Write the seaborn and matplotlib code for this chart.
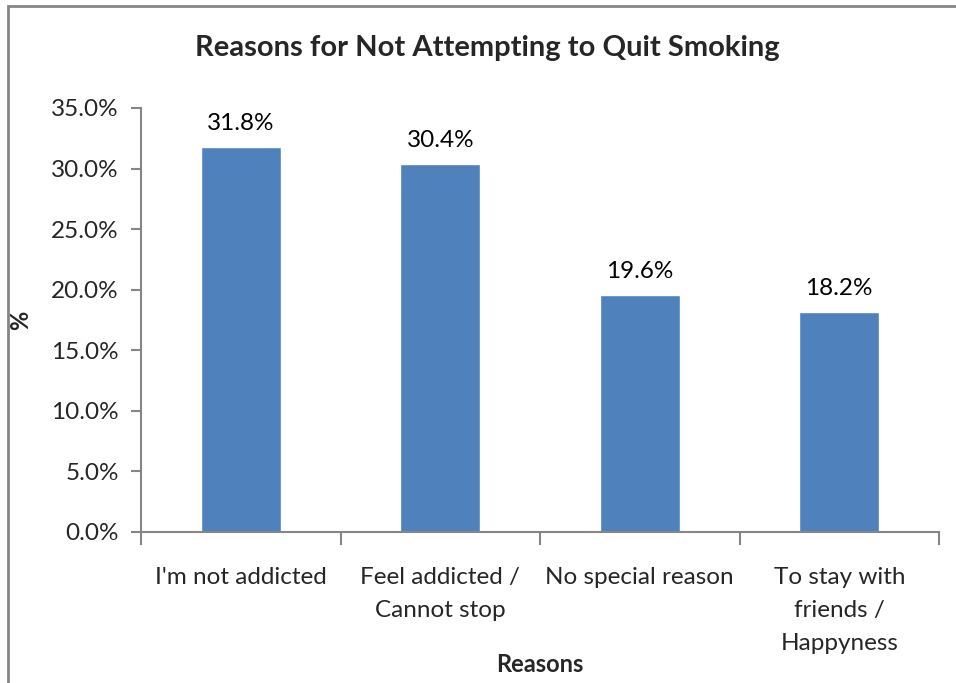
import matplotlib
matplotlib.use("Agg")
import matplotlib.pyplot as plt
import seaborn as sns
import pandas as pd
from matplotlib.patches import Rectangle
from matplotlib.ticker import FuncFormatter, FixedLocator

reasons = ["I'm not addicted", "Feel addicted /\nCannot stop", "No special reason",
           "To stay with\nfriends /\nHappyness"]
shares = [31.8, 30.4, 19.6, 18.2]

sns.set_style("white")
plt.rcParams['font.family'] = ['Lato', 'DejaVu Sans']

df = pd.DataFrame({"reason": reasons, "share": shares})

fig = plt.figure(figsize=(9.56, 6.83), dpi=100)
ax = fig.add_axes([141/956, 1-532/683, (939-141)/956, (532-108)/683])

sns.barplot(data=df, x="reason", y="share", color="#4F81BD", saturation=1,
            width=0.4, ax=ax)

for p, v in zip(ax.patches, shares):
    ax.annotate(f"{v:.1f}%", (p.get_x() + p.get_width()/2, p.get_height()),
                xytext=(0, 9), textcoords="offset points", ha="center",
                va="bottom", fontsize=17.5, color="black")

ax.set_xlim(-0.5, 3.5)
ax.set_ylim(0, 35)
ax.yaxis.set_major_locator(FixedLocator([0, 5, 10, 15, 20, 25, 30, 35]))
ax.yaxis.set_major_formatter(FuncFormatter(lambda v, _: f"{v:.1f}%"))

for s in ["top", "right"]:
    ax.spines[s].set_visible(False)
for s in ["left", "bottom"]:
    ax.spines[s].set_color("#868686")
    ax.spines[s].set_linewidth(1.5)

ax.tick_params(axis="y", length=7, width=1.5, color="#868686", direction="out",
               labelsize=17.5, pad=9, left=True)
ax.tick_params(axis="x", which="major", length=0, labelsize=17.5, pad=25)
ax.set_xticks([-0.5, 0.5, 1.5, 2.5, 3.5], minor=True)
ax.tick_params(axis="x", which="minor", length=9, width=1.5, color="#868686",
               direction="out", bottom=True)
for lbl in ax.get_xticklabels():
    lbl.set_linespacing(1.72)

ax.set_xlabel("Reasons", fontsize=17, fontweight="bold")
ax.set_ylabel("%", fontsize=17, fontweight="bold")
ax.xaxis.set_label_coords((540-141)/(939-141), (532-653)/(532-108))
ax.yaxis.set_label_coords((32-141)/(939-141), (532-320)/(532-108))

fig.text(487/956, 1-48/683, "Reasons for Not Attempting to Quit Smoking",
         ha="center", va="center", fontsize=21, fontweight="bold")

fig.patches.append(Rectangle((8/956, -0.05), 1.2, 1-6/683+0.05,
                             transform=fig.transFigure, fill=False,
                             edgecolor="#868686", linewidth=2))

fig.savefig("out.png", dpi=100, facecolor="white")
